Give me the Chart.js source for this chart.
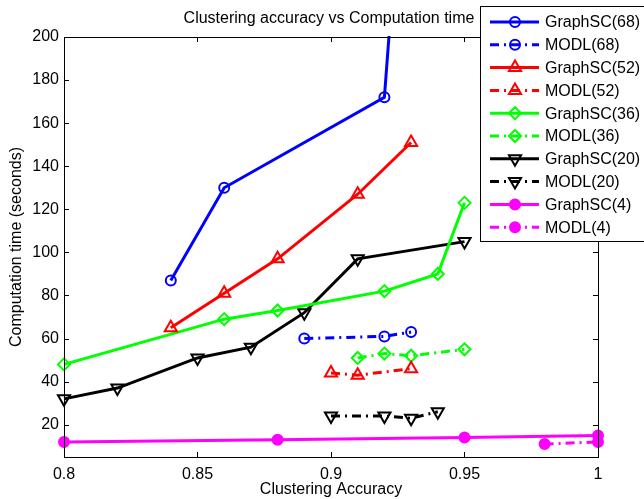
<!DOCTYPE html>
<html>
<head>
<meta charset="utf-8">
<script src="https://cdn.jsdelivr.net/npm/chart.js@4"></script>
<style>
  html, body { margin: 0; padding: 0; background: #fff; }
  #wrap { width: 644px; height: 499px; }
</style>
</head>
<body>
<div id="wrap"><canvas id="chart-1"></canvas></div>
<script>
// ---------------------------- data ------------------------------------------
const xTicks = [0.8, 0.85, 0.9, 0.95, 1];
const yTicks = [20, 40, 60, 80, 100, 120, 140, 160, 180, 200];

const gsc68Acc = [0.84, 0.86, 0.92, 0.93];
const gsc68Time = [87, 130, 172, 337];
const modl68Acc = [0.89, 0.92, 0.93];
const modl68Time = [60, 61, 63];

const gsc52Acc = [0.84, 0.86, 0.88, 0.91, 0.93];
const gsc52Time = [65, 81, 97, 127, 151];
const modl52Acc = [0.9, 0.91, 0.93];
const modl52Time = [44, 43, 46];

const gsc36Acc = [0.8, 0.86, 0.88, 0.92, 0.94, 0.95];
const gsc36Time = [48, 69, 73, 82, 90, 123];
const modl36Acc = [0.91, 0.92, 0.93, 0.95];
const modl36Time = [51, 53, 52, 55];

const gsc20Acc = [0.8, 0.82, 0.85, 0.87, 0.89, 0.91, 0.95];
const gsc20Time = [32, 37, 51, 56, 72, 97, 105];
const modl20Acc = [0.9, 0.92, 0.93, 0.94];
const modl20Time = [24, 24, 23, 26];

const gsc4Acc = [0.8, 0.88, 0.95, 1];
const gsc4Time = [12, 13, 14, 15];
const modl4Acc = [0.98, 1];
const modl4Time = [11, 12];

// ---------------------------- helpers ---------------------------------------
const FONT = '"Liberation Sans", Arial, Helvetica, sans-serif';
const dashDot = [9, 5, 2, 5];

function pts(xs, ys) {
  return xs.map((x, i) => ({ x: x, y: ys[i] }));
}

function series(label, xs, ys, color, style, dashed, radius, rot, filled) {
  return {
    label: label,
    data: pts(xs, ys),
    borderColor: color,
    backgroundColor: color,
    borderWidth: 3,
    borderDash: dashed ? dashDot : [],
    pointStyle: style,
    pointRotation: rot || 0,
    pointRadius: radius,
    pointBorderWidth: 2,
    pointBorderColor: color,
    pointBackgroundColor: filled ? color : 'rgba(0,0,0,0)',
    tension: 0,
    clip: { left: 10, right: 10, top: 1, bottom: 10 }
  };
}

const datasets = [
  series('GraphSC(68)', gsc68Acc, gsc68Time, '#0000ff', 'circle', false, 5),
  series('MODL(68)', modl68Acc, modl68Time, '#0000ff', 'circle', true, 5),
  series('GraphSC(52)', gsc52Acc, gsc52Time, '#ff0000', 'triangle', false, 7),
  series('MODL(52)', modl52Acc, modl52Time, '#ff0000', 'triangle', true, 7),
  series('GraphSC(36)', gsc36Acc, gsc36Time, '#00ff00', 'rectRot', false, 6),
  series('MODL(36)', modl36Acc, modl36Time, '#00ff00', 'rectRot', true, 6),
  series('GraphSC(20)', gsc20Acc, gsc20Time, '#000000', 'triangle', false, 7, 180),
  series('MODL(20)', modl20Acc, modl20Time, '#000000', 'triangle', true, 7, 180),
  series('GraphSC(4)', gsc4Acc, gsc4Time, '#ff00ff', 'circle', false, 5, 0, true),
  series('MODL(4)', modl4Acc, modl4Time, '#ff00ff', 'circle', true, 5, 0, true)
];

// box, inward ticks, title and legend (matlab look)
const matlabFrame = {
  id: 'matlabFrame',
  afterDraw(chart) {
    const ctx = chart.ctx;
    const a = chart.chartArea;
    const xs = chart.scales.x, ys = chart.scales.y;
    ctx.save();
    ctx.strokeStyle = '#000';
    ctx.lineWidth = 1;
    ctx.setLineDash([]);
    ctx.strokeRect(Math.round(a.left) + 0.5, Math.round(a.top) + 0.5,
      Math.round(a.right - a.left), Math.round(a.bottom - a.top));
    ctx.beginPath();
    xTicks.forEach(v => {
      const px = Math.round(xs.getPixelForValue(v)) + 0.5;
      ctx.moveTo(px, a.bottom); ctx.lineTo(px, a.bottom - 5);
      ctx.moveTo(px, a.top); ctx.lineTo(px, a.top + 5);
    });
    yTicks.forEach(v => {
      const py = Math.round(ys.getPixelForValue(v)) + 0.5;
      ctx.moveTo(a.left, py); ctx.lineTo(a.left + 5, py);
      ctx.moveTo(a.right, py); ctx.lineTo(a.right - 5, py);
    });
    ctx.stroke();

    // title
    ctx.fillStyle = '#000';
    ctx.font = '16px ' + FONT;
    ctx.textAlign = 'center';
    ctx.textBaseline = 'middle';
    ctx.fillText('Clustering accuracy vs Computation time', 329, 19);

    // legend
    const lx = 480.5, ly = 6.5;
    ctx.fillStyle = '#fff';
    ctx.fillRect(lx, ly, 200, 235);
    ctx.strokeRect(lx, ly, 200, 235);
    chart.data.datasets.forEach((ds, i) => {
      const y = 22 + i * 22.8;
      ctx.strokeStyle = ds.borderColor;
      ctx.lineWidth = 3;
      ctx.setLineDash(ds.borderDash);
      ctx.beginPath();
      ctx.moveTo(490, y); ctx.lineTo(539, y);
      ctx.stroke();
      ctx.setLineDash([]);
      ctx.lineWidth = 2;
      ctx.fillStyle = ds.pointBackgroundColor;
      Chart.helpers.drawPoint(ctx, {
        pointStyle: ds.pointStyle, rotation: ds.pointRotation,
        radius: ds.pointRadius, borderWidth: 2
      }, 515, y);
      ctx.fillStyle = '#000';
      ctx.textAlign = 'left';
      ctx.fillText(ds.label, 545, y + 1);
    });
    ctx.restore();
  }
};

// ---------------------------- chart -----------------------------------------
const ctx = document.getElementById('chart-1');
new Chart(ctx, {
  type: 'line',
  data: { datasets: datasets },
  options: {
    responsive: true,
    maintainAspectRatio: false,
    animation: false,
    layout: { padding: { top: 37, right: 46, bottom: 0, left: 0 } },
    plugins: {
      legend: { display: false },
      title: { display: false },
      tooltip: { enabled: false }
    },
    scales: {
      x: {
        type: 'linear',
        min: 0.8,
        max: 1,
        afterFit: s => { s.height = 42; },
        afterBuildTicks: s => { s.ticks = xTicks.map(v => ({ value: v })); },
        grid: { display: false, drawTicks: false },
        border: { display: false },
        ticks: { padding: 8, color: '#000', font: { family: FONT, size: 16 }, callback: v => String(v), maxRotation: 0 },
        title: { display: true, text: 'Clustering Accuracy', color: '#000', font: { family: FONT, size: 16 }, padding: 0 }
      },
      y: {
        type: 'linear',
        min: 5,
        max: 200,
        afterFit: s => { s.width = 64; },
        afterBuildTicks: s => { s.ticks = yTicks.map(v => ({ value: v })); },
        grid: { display: false, drawTicks: false },
        border: { display: false },
        ticks: { padding: 5, color: '#000', font: { family: FONT, size: 16 }, callback: v => String(v) },
        title: { display: true, text: 'Computation time (seconds)', color: '#000', font: { family: FONT, size: 16 }, padding: { top: 7, bottom: 0 } }
      }
    }
  },
  plugins: [matlabFrame]
});
</script>
</body>
</html>
